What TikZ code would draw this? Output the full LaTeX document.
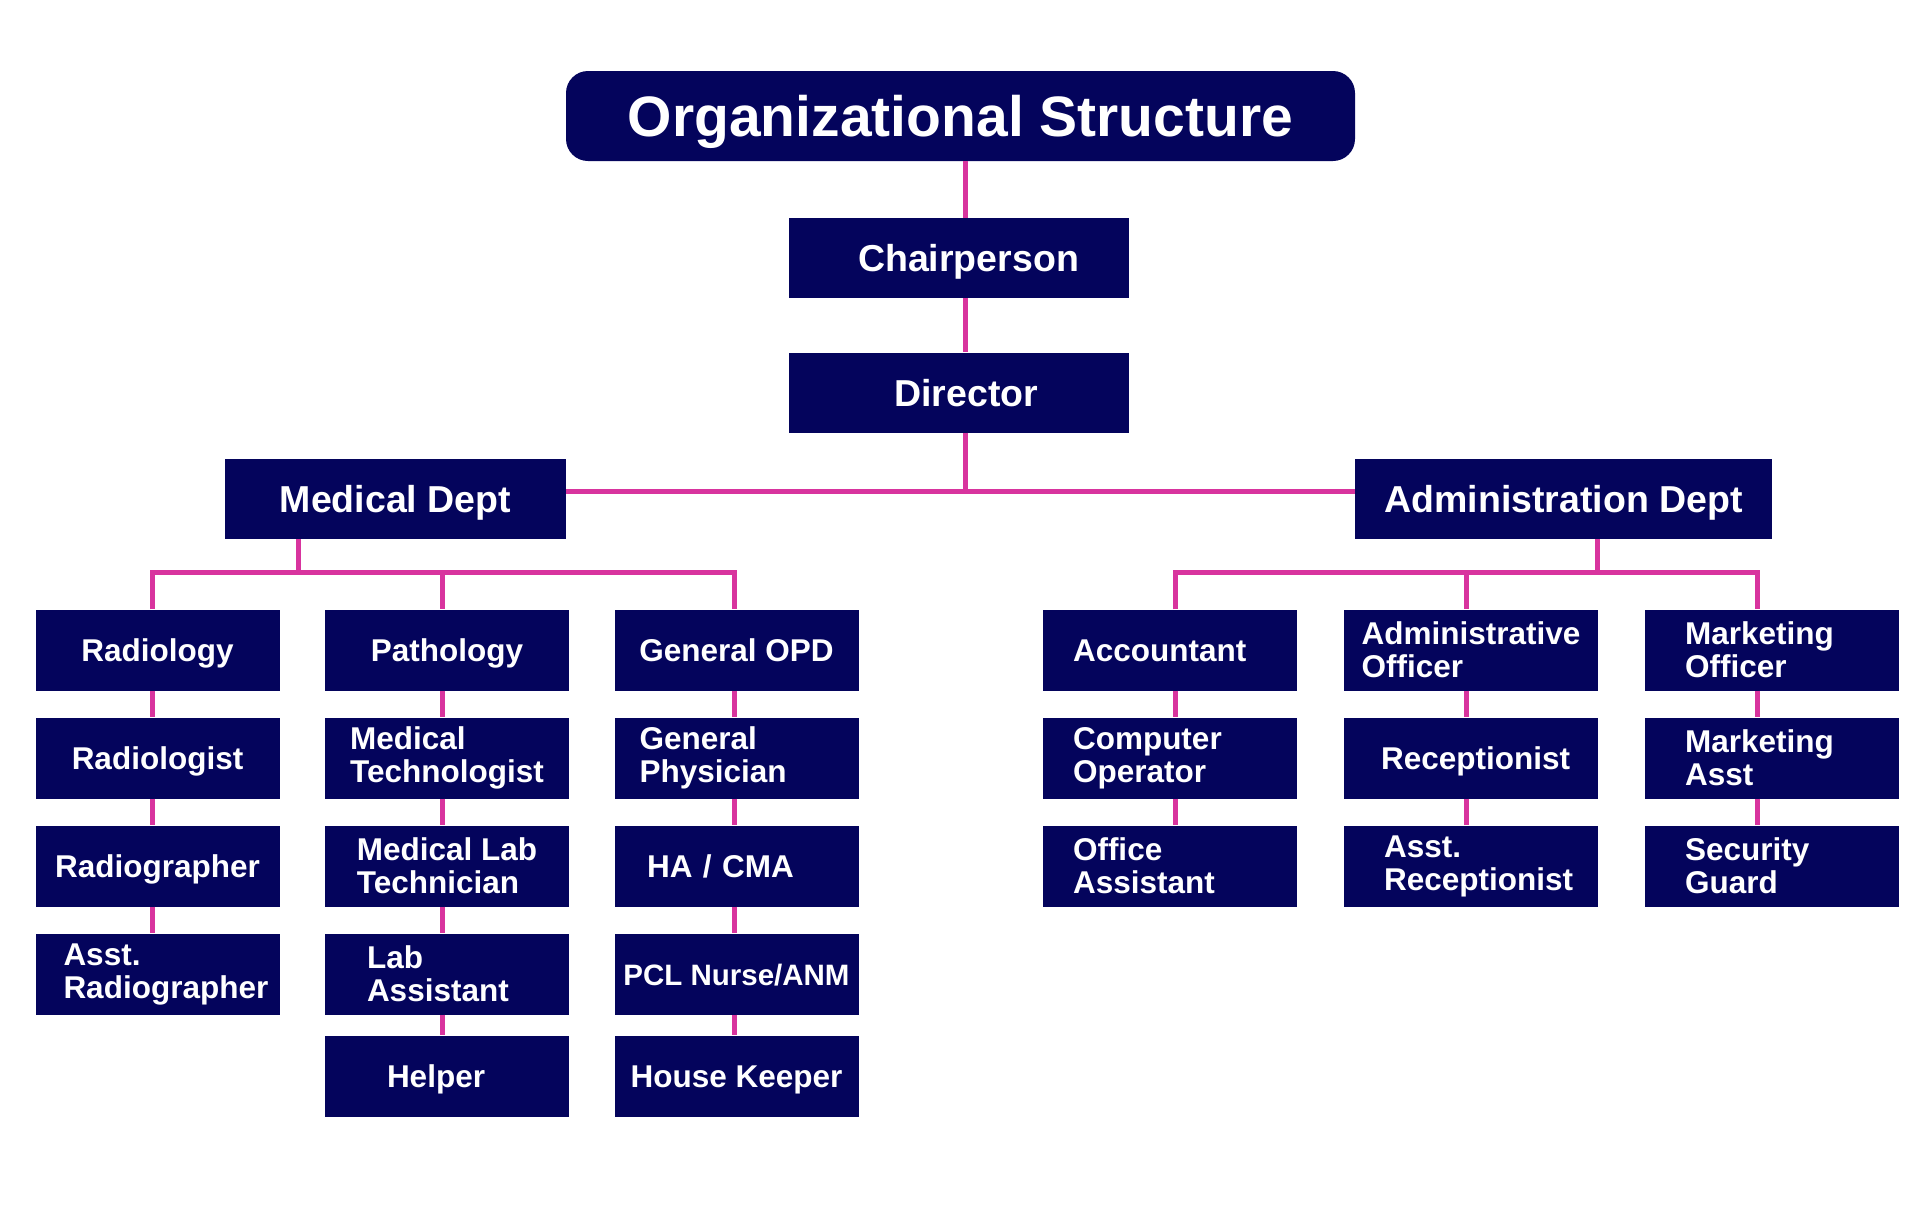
\documentclass[tikz,border=0pt]{standalone}
\usepackage{fontspec}
\setmainfont{Liberation Sans}
\usetikzlibrary{positioning}
\definecolor{boxnavy}{HTML}{04045C}
\definecolor{linkpink}{HTML}{D8349E}

\begin{document}
\begin{tikzpicture}[x=1pt,y=-1pt,
  box/.style={fill=boxnavy,text=white,inner sep=0pt,align=left,
    minimum width=244pt,minimum height=81pt,
    font=\bfseries\fontsize{31.5}{33}\selectfont},
  abox/.style={box,minimum width=254pt},
  accbox/.style={abox,text width=194pt},
  mktbox/.style={abox,text width=174pt},
  one/.style={text height=22.5pt,text depth=0pt},
  head/.style={box,minimum width=340pt,minimum height=80pt,
    text height=27pt,text depth=0pt,
    font=\bfseries\fontsize{37.5}{40}\selectfont},
  link/.style={linkpink,line width=5pt}]
  \useasboundingbox (0,0) rectangle (1920,1216);
  % top of the chart
  \node[head,rounded corners=22pt,minimum width=789pt,minimum height=90pt,
    text height=41pt,font=\bfseries\fontsize{57}{60}\selectfont] (title) at (960.5,116) {Organizational Structure};
  \node[head,align=right,text width=240pt] (chair) at (959,258) {Chairperson};
  \node[head,align=right,text width=158pt] (dir) at (959,392.5) {Director};
  \node[head,minimum width=341pt] (med) at (395.5,499) {Medical Dept};
  \node[head,minimum width=417pt] (adm) at (1563.5,499) {Administration Dept};
  % medical columns
  \node[box,one] (rad1) at (157.5,650) {Radiology};
  \node[box,one] (rad2) at (157.5,758) {Radiologist};
  \node[box,one] (rad3) at (157.5,866) {Radiographer};
  \node[box,text width=188pt] (rad4) at (157.5,974) {Asst.\\Radiographer};
  \node[box,one] (pat1) at (447,650) {Pathology};
  \node[box] (pat2) at (447,758) {Medical\\Technologist};
  \node[box] (pat3) at (447,866) {Medical Lab\\Technician};
  \node[box,text width=160pt] (pat4) at (447,974) {Lab\\Assistant};
  \node[box,one,text width=120pt] (pat5) at (447,1076) {Helper};
  \node[box,one] (opd1) at (736.5,650) {General OPD};
  \node[box,text width=194pt] (opd2) at (736.5,758) {General\\Physician};
  \node[box,one,text width=179pt] (opd3) at (736.5,866) {HA / CMA};
  \node[box,one,font=\bfseries\fontsize{29.5}{31}\selectfont] (opd4) at (736.5,974) {PCL Nurse/ANM};
  \node[box,one] (opd5) at (736.5,1076) {House Keeper};
  % administration columns
  \node[accbox,one] (acc1) at (1170,650) {Accountant};
  \node[accbox] (acc2) at (1170,758) {Computer\\Operator};
  \node[accbox] (acc3) at (1170,866) {Office\\Assistant};
  \node[abox] (aof1) at (1471,650) {Administrative\\Officer};
  \node[abox,one,text width=180pt] (aof2) at (1471,758) {Receptionist};
  \node[abox,text width=174pt] (aof3) at (1471,866) {Asst.\\Receptionist};
  \node[mktbox] (mkt1) at (1772,650) {Marketing\\Officer};
  \node[mktbox] (mkt2) at (1772,758) {Marketing\\Asst};
  \node[mktbox] (mkt3) at (1772,866) {Security\\Guard};
  % connectors
  \coordinate (spine) at (965,491);
  \coordinate (medbar) at (298,572);
  \coordinate (admbar) at (1597.5,572);
  \coordinate (rad0) at (152,572);
  \coordinate (pat0) at (442.5,572);
  \coordinate (opd0) at (734,572);
  \coordinate (acc0) at (1175,572);
  \coordinate (aof0) at (1466,572);
  \coordinate (mkt0) at (1757.5,572);
  \draw[link] (title.south -| spine) -- (chair.north -| spine);
  \draw[link] (chair.south -| spine) -- (dir.north -| spine);
  \draw[link] (dir.south -| spine) -- (spine);
  \draw[link] (med.east |- spine) -- (adm.west |- spine);
  \draw[link] (med.south -| medbar) -- (medbar);
  \draw[link] (adm.south -| admbar) -- (admbar);
  \draw[link] (rad1.north -| rad0) -- (rad0) -- (opd0) -- (opd1.north -| opd0);
  \draw[link] (pat0) -- (pat1.north -| pat0);
  \draw[link] (acc1.north -| acc0) -- (acc0) -- (mkt0) -- (mkt1.north -| mkt0);
  \draw[link] (aof0) -- (aof1.north -| aof0);
  \foreach \col/\n in {rad/4,pat/5,opd/5,acc/3,aof/3,mkt/3} {
    \pgfmathtruncatemacro\last{\n-1}
    \foreach \i in {1,...,\last} {
      \pgfmathtruncatemacro\j{\i+1}
      \draw[link] (\col\i.south -| \col0) -- (\col\j.north -| \col0);
    }
  }
\end{tikzpicture}
\end{document}
